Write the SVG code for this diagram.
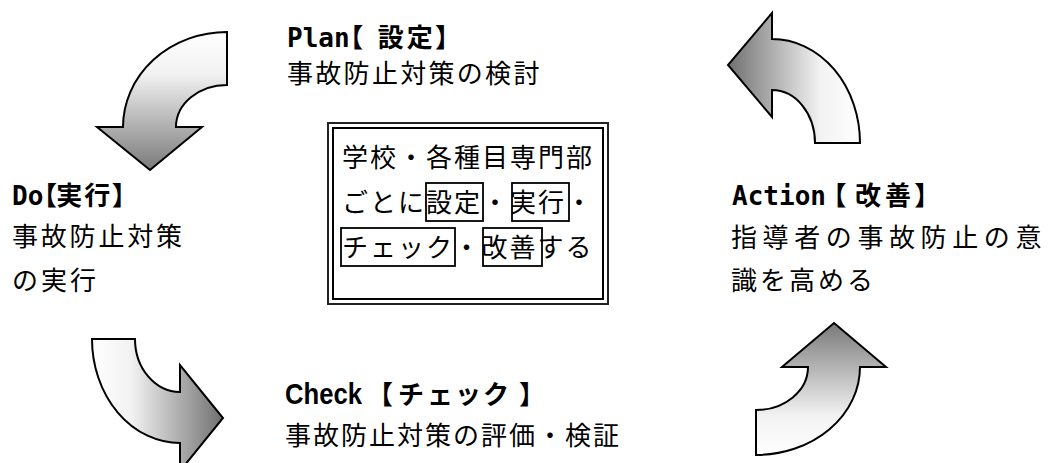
<svg xmlns="http://www.w3.org/2000/svg" width="1058" height="463" viewBox="0 0 1058 463">
<style>
.t{font-family:"Noto Sans CJK JP","Noto Sans CJK SC",sans-serif;font-size:26px;fill:#000}
.h{font-family:"DejaVu Sans Mono","Noto Sans CJK JP","Noto Sans CJK SC",monospace;font-size:26px;font-weight:bold;fill:#000;font-feature-settings:"palt" 1}
.hp{font-family:"Liberation Sans","Noto Sans CJK JP","Noto Sans CJK SC",sans-serif;font-size:26px;font-weight:bold;fill:#000}
.arrow{stroke:#000;stroke-width:2;stroke-linejoin:miter}
.wb{fill:none;stroke:#000;stroke-width:1.8}
</style>
<defs>
<linearGradient id="gDown" x1="0" y1="0" x2="0" y2="1"><stop offset="0" stop-color="#fff"/><stop offset="0.3" stop-color="#f2f2f2"/><stop offset="1" stop-color="#7a7a7a"/></linearGradient>
<linearGradient id="gUp" x1="0" y1="1" x2="0" y2="0"><stop offset="0" stop-color="#fff"/><stop offset="0.3" stop-color="#f2f2f2"/><stop offset="1" stop-color="#7a7a7a"/></linearGradient>
<linearGradient id="gLeft" x1="1" y1="0" x2="0" y2="0"><stop offset="0" stop-color="#fff"/><stop offset="0.3" stop-color="#f2f2f2"/><stop offset="1" stop-color="#707070"/></linearGradient>
<linearGradient id="gRight" x1="0" y1="0" x2="1" y2="0"><stop offset="0" stop-color="#fff"/><stop offset="0.3" stop-color="#f2f2f2"/><stop offset="1" stop-color="#707070"/></linearGradient>
</defs>
<rect width="1058" height="463" fill="#fff"/>
<g id="connectors">
<path class="arrow" fill="url(#gDown)" d="M227,32 A104,95 0 0 0 123,127 L97,127 L150,170 L202,127 L176,127 A51,42 0 0 1 227,85 Z"/>
<path class="arrow" fill="url(#gLeft)" d="M772,39 A88,104 0 0 1 860,143 L815,143 A43,53 0 0 0 772,90 L772,117 L728,65 L772,13 Z"/>
<path class="arrow" fill="url(#gRight)" d="M92,339 L135,339 A45,53 0 0 0 180,392 L180,365 L223,418 L180,471 L180,443 A88,104 0 0 1 92,339 Z"/>
<path class="arrow" fill="url(#gUp)" d="M834,323 L886,367 L860,367 A104,88 0 0 1 756,455 L756,410 A52,43 0 0 0 808,367 L782,367 Z"/>
</g>
<g id="plan">
<text class="h" x="287" y="47" dx="0 0 0 0 0 15 3 3">Plan【設定】</text>
<text class="t" x="287" y="83" letter-spacing="2.3">事故防止対策の検討</text>
</g>
<g id="do">
<text class="h" x="12" y="205" dx="0 0 0 0 2 2">Do【実行】</text>
<text class="t" x="12" y="246" letter-spacing="2.8">事故防止対策</text>
<text class="t" x="12" y="290" letter-spacing="3">の実行</text>
</g>
<g id="action">
<text class="h" x="732" y="205" dx="0 0 0 0 0 0 7 9 4 4">Action【改善】</text>
<text class="t" x="731" y="247" letter-spacing="5.6">指導者の事故防止の意</text>
<text class="t" x="731" y="290" letter-spacing="3">識を高める</text>
</g>
<g id="check">
<text class="hp" x="285" y="404" dx="0 0 0 0 0 5 5 3 2 2 10"><tspan font-size="30" textLength="77" lengthAdjust="spacingAndGlyphs">Check</tspan>【チェック】</text>
<text class="t" x="285" y="445" letter-spacing="2">事故防止対策の評価・検証</text>
</g>
<g id="center">
<rect x="328" y="123" width="280" height="181" fill="#fff" stroke="#222" stroke-width="2"/>
<rect x="333" y="128" width="270" height="171" fill="none" stroke="#000" stroke-width="2"/>
<text class="t" x="342" y="167" letter-spacing="2">学校・各種目専門部</text>
<text class="t" x="342" y="212" letter-spacing="2">ごとに設定・実行・</text>
<text class="t" x="342" y="257" letter-spacing="2">チェック・改善する</text>
<rect class="wb" x="426" y="183" width="57" height="38"/>
<rect class="wb" x="512" y="183" width="57" height="38"/>
<rect class="wb" x="341" y="228" width="114" height="38"/>
<rect class="wb" x="483" y="228" width="59" height="38"/>
</g>
</svg>
